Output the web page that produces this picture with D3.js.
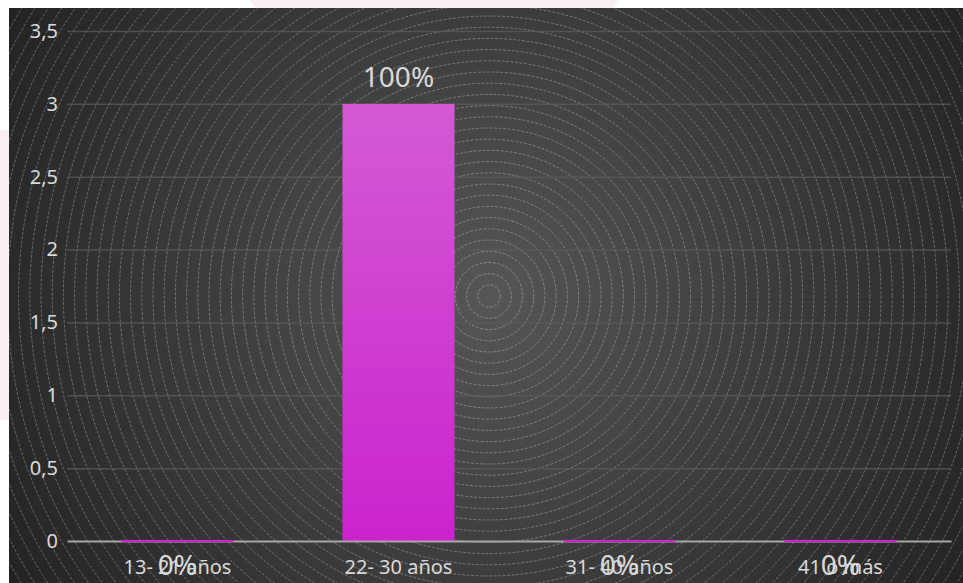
<!DOCTYPE html>
<html>
<head>
<meta charset="utf-8">
<script src="https://cdn.jsdelivr.net/npm/d3@7/dist/d3.min.js"></script>
<style>
  html, body { margin: 0; padding: 0; background: #ffffff; }
  svg { display: block; }
  text { font-family: "Noto Sans", "Open Sans", sans-serif; }
</style>
</head>
<body>
<svg id="chart" width="963" height="583"></svg>
<script>
// Age groups and how many respondents fell into each
const categories = ["13- 21 años", "22- 30 años", "31- 40 años", "41 o más"];
const counts = [0, 3, 0, 0];
const yTicks = [0, 0.5, 1, 1.5, 2, 2.5, 3, 3.5];

const W = 963, H = 583;
const svg = d3.select("#chart");
const defs = svg.append("defs");

// Background: radial grey glow with faint concentric rings
const bg = defs.append("radialGradient").attr("id", "bgGlow")
  .attr("gradientUnits", "userSpaceOnUse")
  .attr("cx", 489).attr("cy", 296).attr("r", 570);
bg.append("stop").attr("offset", "0%").attr("stop-color", "#565656");
bg.append("stop").attr("offset", "100%").attr("stop-color", "#222222");

const barGrad = defs.append("linearGradient").attr("id", "barFill")
  .attr("x1", 0).attr("y1", 0).attr("x2", 0).attr("y2", 1);
barGrad.append("stop").attr("offset", "0%").attr("stop-color", "#d35ad4");
barGrad.append("stop").attr("offset", "100%").attr("stop-color", "#cb23ce");

defs.append("clipPath").attr("id", "panelClip")
  .append("rect").attr("x", 9).attr("y", 8).attr("width", W - 9).attr("height", H - 8);

// faint pink watermark peeking around the panel edges
svg.append("path")
  .attr("d", "M250,0 L620,0 L560,60 L300,60 Z M0,130 L30,130 L30,420 L0,420 Z")
  .attr("fill", "#f9eef4");

svg.append("rect").attr("x", 9).attr("y", 8)
  .attr("width", W - 9).attr("height", H - 8)
  .attr("fill", "url(#bgGlow)");

const rings = svg.append("g").attr("clip-path", "url(#panelClip)");
rings.selectAll("circle")
  .data(d3.range(1, 53))
  .join("circle")
  .attr("cx", 489).attr("cy", 296)
  .attr("r", k => k * 11.2)
  .attr("fill", "none")
  .attr("stroke", "#ffffff")
  .attr("stroke-opacity", 0.36)
  .attr("stroke-width", 0.8)
  .attr("stroke-dasharray", "3 1.5");

// Scales
const x = d3.scaleBand().domain(categories).range([67, 951])
  .paddingInner(0.493).paddingOuter(0.2465);
const y = d3.scaleLinear().domain([0, 3.5]).range([541, 31]);

const locale = d3.formatLocale({ decimal: ",", thousands: ".", grouping: [3], currency: ["", "€"] });
const fmtTick = locale.format("~g");

// Y axis with gridlines
const yAxis = svg.append("g").attr("transform", "translate(67,0)")
  .call(d3.axisLeft(y).tickValues(yTicks).tickFormat(fmtTick)
    .tickSize(-(951 - 67)).tickPadding(9));
yAxis.select(".domain").remove();
yAxis.selectAll(".tick line")
  .attr("stroke", "#5c5c5c").attr("stroke-opacity", 0.75).attr("stroke-width", 1.5);
yAxis.selectAll(".tick text")
  .attr("fill", "#d9d9d9").attr("font-size", 20);
yAxis.selectAll(".tick").filter(d => d === 0).select("line").remove();

// Bars
const bars = svg.append("g");
bars.selectAll("rect")
  .data(categories.map((c, i) => ({ c, v: counts[i] })))
  .join("rect")
  .attr("x", d => x(d.c))
  .attr("width", x.bandwidth())
  .attr("y", d => y(d.v))
  .attr("height", d => y(0) - y(d.v))
  .attr("fill", "url(#barFill)");

// X axis baseline
const xAxis = svg.append("g").attr("transform", `translate(0,${y(0)})`)
  .call(d3.axisBottom(x).tickSize(0).tickPadding(19));
xAxis.select(".domain").attr("stroke", "#a6a6a6").attr("stroke-width", 2.2);
xAxis.selectAll(".tick text").attr("fill", "#d9d9d9").attr("font-size", 20);

// Zero-height bars still show as a thin magenta line on the baseline
svg.append("g").selectAll("rect")
  .data(categories.map((c, i) => ({ c, v: counts[i] })).filter(d => d.v === 0))
  .join("rect")
  .attr("x", d => x(d.c))
  .attr("width", x.bandwidth())
  .attr("y", y(0) - 1.1)
  .attr("height", 2.2)
  .attr("fill", "#cb23ce");

// Percentage labels
const total = d3.sum(counts);
const pct = d3.format(".0%");
svg.append("g").selectAll("text")
  .data(categories.map((c, i) => ({ c, v: counts[i] })))
  .join("text")
  .attr("x", d => x(d.c) + x.bandwidth() / 2)
  .attr("y", d => d.v > 0 ? y(d.v) - 17 : y(0) + 34)
  .attr("text-anchor", "middle")
  .attr("fill", "#d9d9d9")
  .attr("font-size", 28)
  .text(d => pct(d.v / total));
</script>
</body>
</html>
